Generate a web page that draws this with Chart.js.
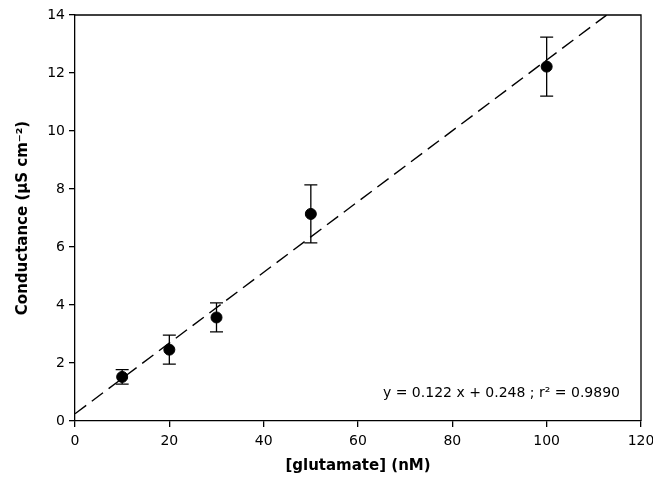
<!DOCTYPE html>
<html><head><meta charset="utf-8">
<script src="https://cdn.jsdelivr.net/npm/chart.js@4/dist/chart.umd.min.js"></script>
<style>html,body{margin:0;padding:0;background:#fff}</style>
</head><body>
<canvas id="c" width="653" height="489"></canvas>
<script>
const concentrations = [10, 20, 30, 50, 100];
const conductance = [1.52, 2.46, 3.57, 7.14, 12.22];
const errors = [0.25, 0.5, 0.5, 1.0, 1.02];
const fitSlope = 0.122;
const fitIntercept = 0.248;
const fitX = [0, 112.7];
const xTicks = [0, 20, 40, 60, 80, 100, 120];
const yTicks = [0, 2, 4, 6, 8, 10, 12, 14];
const equationText = 'y = 0.122 x + 0.248 ; r\u00B2 = 0.9890';

const FONT = 'Tahoma, "DejaVu Sans", sans-serif';

const errorBarPlugin = {
  id: 'errbars',
  afterDatasetsDraw(chart) {
    const ctx = chart.ctx, xs = chart.scales.x, ys = chart.scales.y;
    ctx.save();
    ctx.strokeStyle = '#000'; ctx.lineWidth = 1.3;
    concentrations.forEach((c, i) => {
      const px = xs.getPixelForValue(c);
      const top = ys.getPixelForValue(conductance[i] + errors[i]);
      const bot = ys.getPixelForValue(conductance[i] - errors[i]);
      ctx.beginPath();
      ctx.moveTo(px, top); ctx.lineTo(px, bot);
      ctx.moveTo(px - 6.5, top); ctx.lineTo(px + 6.5, top);
      ctx.moveTo(px - 6.5, bot); ctx.lineTo(px + 6.5, bot);
      ctx.stroke();
    });
    ctx.restore();
  }
};
const framePlugin = {
  id: 'frame',
  afterDraw(chart) {
    const ctx = chart.ctx, a = chart.chartArea;
    ctx.save();
    ctx.strokeStyle = '#000'; ctx.lineWidth = 1.3;
    ctx.beginPath();
    ctx.moveTo(a.left, a.top); ctx.lineTo(a.right, a.top); ctx.lineTo(a.right, a.bottom);
    ctx.stroke();
    ctx.fillStyle = '#000';
    ctx.font = '14px ' + FONT;
    ctx.textAlign = 'right'; ctx.textBaseline = 'middle';
    ctx.fillText(equationText, a.right - 21, chart.scales.y.getPixelForValue(0.95));
    ctx.restore();
  }
};

new Chart(document.getElementById('c'), {
  type: 'scatter',
  data: {
    datasets: [
      {
        label: 'data',
        data: concentrations.map((x, i) => ({x, y: conductance[i]})),
        backgroundColor: '#000', borderColor: '#000',
        pointRadius: 5.5, pointHoverRadius: 5.5
      },
      {
        label: 'fit',
        type: 'line',
        data: fitX.map(x => ({x, y: fitSlope * x + fitIntercept})),
        borderColor: '#000', borderWidth: 1.4, borderDash: [14, 7],
        pointRadius: 0, fill: false
      }
    ]
  },
  options: {
    responsive: false, animation: false,
    layout: {padding: {left: 0, top: 15, right: 12, bottom: 0}},
    plugins: {legend: {display: false}, tooltip: {enabled: false}},
    scales: {
      x: {
        type: 'linear', min: 0, max: 120,
        afterBuildTicks: s => { s.ticks = xTicks.map(v => ({value: v})); },
        grid: {display: true, drawOnChartArea: false, drawTicks: true, tickLength: 6, color: '#000', lineWidth: 1.3},
        border: {color: '#000', width: 1.3},
        ticks: {color: '#000', font: {family: FONT, size: 14}, padding: 6, maxRotation: 0},
        title: {display: true, text: '[glutamate] (nM)', color: '#000', font: {family: FONT, size: 15, weight: 'bold'}, padding: {top: 2, bottom: 14}},
        afterFit: s => { s.height = 68; s.paddingRight = 0; s.paddingLeft = 0; }
      },
      y: {
        type: 'linear', min: 0, max: 14,
        afterBuildTicks: s => { s.ticks = yTicks.map(v => ({value: v})); },
        grid: {display: true, drawOnChartArea: false, drawTicks: true, tickLength: 6, color: '#000', lineWidth: 1.3},
        border: {color: '#000', width: 1.3},
        ticks: {color: '#000', font: {family: FONT, size: 14}, padding: 4},
        title: {display: true, text: 'Conductance (\u00B5S cm\u207B\u00B2)', color: '#000', font: {family: FONT, size: 15, weight: 'bold'}, padding: {top: 14, bottom: 0}},
        afterFit: s => { s.width = 75; s.paddingTop = 0; s.paddingBottom = 0; }
      }
    }
  },
  plugins: [errorBarPlugin, framePlugin]
});
</script>
</body></html>
